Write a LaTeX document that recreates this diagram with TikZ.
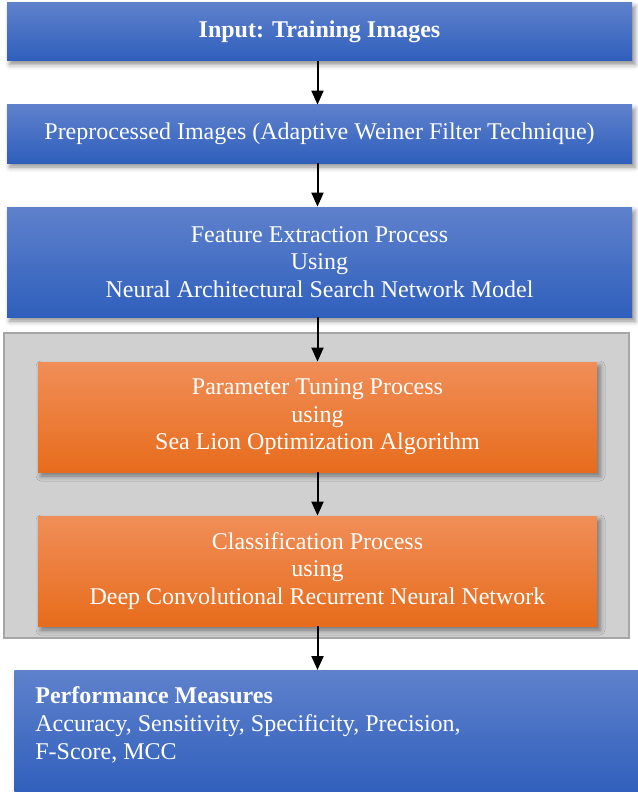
\documentclass[tikz,border=0pt]{standalone}
\usepackage{fontspec}
\setmainfont{Liberation Serif}
\usepackage{xcolor}
\usetikzlibrary{
    arrows.meta,
    shadows.blur,
    positioning
}
\definecolor{bluetop}{RGB}{95,129,204}
\definecolor{bluebot}{RGB}{47,95,188}
\definecolor{orangetop}{RGB}{240,142,88}
\definecolor{orangebot}{RGB}{231,108,28}
\definecolor{groupfill}{RGB}{208,208,208}
\definecolor{groupline}{RGB}{166,166,166}
\tikzset{
    boxshadow/.style={blur shadow={shadow xshift=1.5pt, shadow yshift=-2pt,
        shadow blur radius=2.5pt, shadow opacity=45}},
    bluebox/.style={rectangle, top color=bluetop, bottom color=bluebot,
        boxshadow, text=white, align=center, inner sep=0pt,
        font=\fontsize{12pt}{13.8pt}\selectfont},
    orangebox/.style={rectangle, top color=orangetop, bottom color=orangebot,
        boxshadow, text=white, align=center, inner sep=0pt,
        minimum width=279.5pt, minimum height=55pt,
        font=\fontsize{12pt}{13.8pt}\selectfont},
    groupframe/.style={rectangle, fill=groupfill, draw=groupline, line width=0.6pt,
        inner sep=0pt},
    flow/.style={line width=1pt, -{Triangle[length=7pt, width=6pt]}}
}

\begin{document}
\begin{tikzpicture}[x=0.5pt, y=-0.5pt]
    \useasboundingbox (0, 0) rectangle (637, 792);
    \node[groupframe, minimum width=312.5pt, minimum height=152.5pt] (group) at (316.5, 485.5) {};
    \node[bluebox, minimum width=312.5pt, minimum height=29pt] (input) at (319.5, 31.5) {\bfseries Input: Training Images};
    \node[bluebox, minimum width=312.5pt, minimum height=29pt] (prep) at (319.5, 134) {Preprocessed Images (Adaptive Weiner Filter Technique)};
    \node[bluebox, minimum width=312.5pt, minimum height=55pt] (feat) at (319.5, 262) {Feature Extraction Process\\Using\\Neural Architectural Search Network Model};
    \node[orangebox] (tune) at (317.5, 417) {Parameter Tuning Process\\using\\Sea Lion Optimization Algorithm};
    \node[orangebox] (class) at (317.5, 571) {Classification Process\\using\\Deep Convolutional Recurrent Neural Network};
    \node[bluebox, anchor=north west, minimum width=315pt, minimum height=62.5pt] (perf) at (14, 670) {};
    \node[anchor=north west, text=white, align=left, inner sep=0pt,
        font=\fontsize{12pt}{14pt}\selectfont] (perftext) at ([shift={(10.5pt, -8pt)}]perf.north west)
        {\textbf{Performance Measures}\\Accuracy, Sensitivity, Specificity, Precision,\\F-Score, MCC};
    \draw[flow] (input.south -| tune.north) -- (prep.north -| tune.north);
    \draw[flow] (prep.south -| tune.north) -- (feat.north -| tune.north);
    \draw[flow] (feat.south -| tune.north) -- (tune.north);
    \draw[flow] (tune) -- (class);
    \draw[flow] (class.south) -- (class.south |- perf.north);
\end{tikzpicture}
\end{document}
